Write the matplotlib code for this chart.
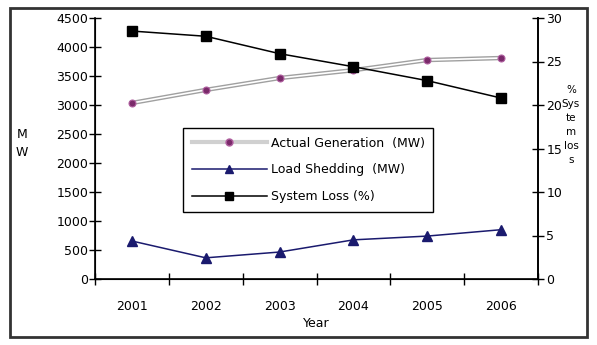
import matplotlib.pyplot as plt
from matplotlib.patches import Rectangle
from matplotlib.lines import Line2D

years = ['2001', '2002', '2003', '2004', '2005', '2006']
actual_gen = [3035, 3260, 3465, 3600, 3775, 3810]
load_shed = [655, 365, 465, 675, 740, 850]
sys_loss = [28.5, 27.9, 25.9, 24.4, 22.8, 20.8]

plt.rcParams['font.family'] = 'DejaVu Sans'
plt.rcParams['font.size'] = 9

fig = plt.figure(figsize=(5.97, 3.45), dpi=100)
# outer frame
fig.patches.append(Rectangle((10/597, 8/345), 577/597, 329/345, transform=fig.transFigure,
                             fill=False, edgecolor='#333333', linewidth=2))

ax = fig.add_axes([95/597, 1 - 279/345, 443/597, 261/345])
x = list(range(len(years)))

# actual generation drawn as a double line
ax.plot(x, actual_gen, color='#a0a0a0', linewidth=3.2)
ax.plot(x, actual_gen, color='white', linewidth=1.2)
ax.plot(x, actual_gen, linestyle='none', marker='o', markersize=5,
        markerfacecolor='#7a2a6a', markeredgecolor='#b060a0', markeredgewidth=0.8)
ax.plot(x, load_shed, color='#1a1a6e', linewidth=1.1, marker='^', markersize=6.5,
        markerfacecolor='#1a1a6e', markeredgecolor='#1a1a6e')

ax.set_xlim(-0.5, 5.5)
ax.set_ylim(0, 4500)
ax.set_yticks(range(0, 4501, 500))
ax.set_xticks([i - 0.5 for i in range(7)])
ax.set_xticklabels([])
ax.set_xticks(x, minor=True)
ax.set_xticklabels(years, minor=True)
ax.tick_params(axis='x', which='minor', length=0, pad=15)
ax.tick_params(axis='x', which='major', direction='inout', length=8, width=1)
ax.tick_params(axis='y', direction='inout', length=8, width=1, pad=1)
ax.spines['top'].set_visible(False)
for s in ['left', 'bottom', 'right']:
    ax.spines[s].set_linewidth(1.2)
ax.set_xlabel('Year', labelpad=3)
fig.text(22/597, 1 - 143/345, 'M\nW', ha='center', va='center', linespacing=1.5)

ax2 = ax.twinx()
ax2.plot(x, sys_loss, color='black', linewidth=1.1, marker='s', markersize=6.5)
ax2.set_ylim(0, 30)
ax2.set_yticks(range(0, 31, 5))
ax2.tick_params(axis='y', direction='inout', length=8, width=1, pad=2)
ax2.spines['top'].set_visible(False)
ax2.spines['right'].set_linewidth(1.2)
fig.text(571/597, 1 - 125/345, '%\nSys\nte\nm\nlos\ns', ha='center', va='center',
         linespacing=1.5, fontsize=7.5)

handles = [
    Line2D([], [], color='#d0d0d0', linewidth=3, marker='o', markersize=5,
           markerfacecolor='#7a2a6a', markeredgecolor='#b060a0'),
    Line2D([], [], color='#1a1a6e', linewidth=1.1, marker='^', markersize=5.5,
           markerfacecolor='#1a1a6e'),
    Line2D([], [], color='black', linewidth=1.1, marker='s', markersize=5.5),
]
labels = ['Actual Generation  (MW)', 'Load Shedding  (MW)', 'System Loss (%)']
leg = ax2.legend(handles, labels, loc='upper left', bbox_to_anchor=(0.199, 0.579),
                 frameon=True, fancybox=False, edgecolor='black', framealpha=1,
                 handlelength=6, handletextpad=0.3, labelspacing=1.1, borderpad=0.7,
                 fontsize=9, borderaxespad=0)
leg.get_frame().set_linewidth(1)

fig.savefig('out.png', dpi=100)
